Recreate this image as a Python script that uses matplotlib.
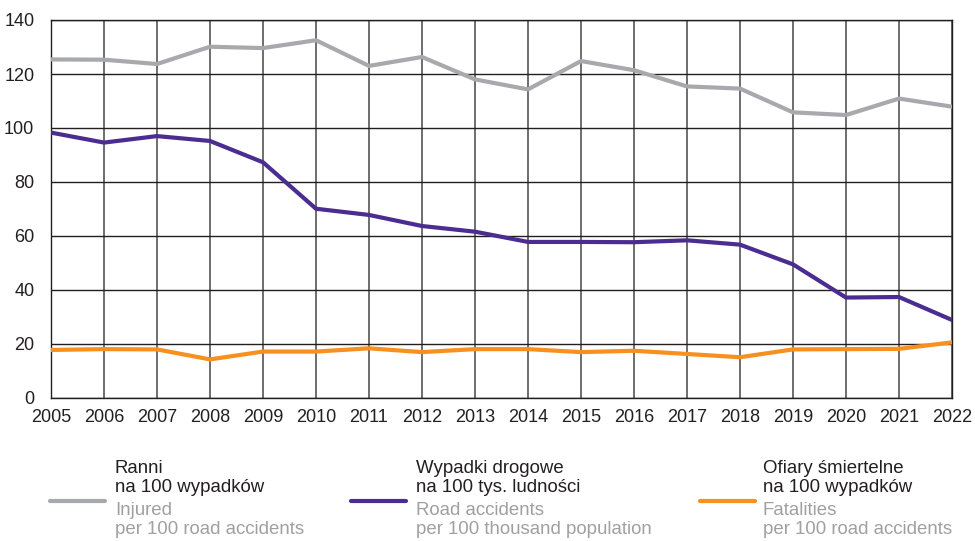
import matplotlib
matplotlib.use("Agg")
import matplotlib.pyplot as plt
from matplotlib.lines import Line2D

plt.rcParams['font.family'] = ['Liberation Sans', 'DejaVu Sans']

years = list(range(2005, 2023))
injured = [125.4, 125.3, 123.7, 130.1, 129.6, 132.5, 123.0, 126.3, 118.0, 114.3,
           124.8, 121.4, 115.4, 114.6, 105.8, 104.8, 110.9, 107.9]
accidents = [98.3, 94.6, 97.0, 95.2, 87.3, 70.1, 67.8, 63.7, 61.6, 57.8,
             57.8, 57.7, 58.4, 56.8, 49.5, 37.2, 37.4, 28.9]
fatalities = [17.8, 18.1, 18.0, 14.3, 17.2, 17.2, 18.4, 17.0, 18.1, 18.1,
              17.0, 17.5, 16.3, 15.1, 18.0, 18.1, 18.2, 20.6]
yticks = [0, 20, 40, 60, 80, 100, 120, 140]

legend_pl = ["Ranni\nna 100 wypadków", "Wypadki drogowe\nna 100 tys. ludności", "Ofiary śmiertelne\nna 100 wypadków"]
legend_en = ["Injured\nper 100 road accidents", "Road accidents\nper 100 thousand population", "Fatalities\nper 100 road accidents"]
colors = ["#A7A9AC", "#4B2C91", "#F7901E"]

W, H = 975, 541
fig = plt.figure(figsize=(W / 100, H / 100), dpi=100)
ax = fig.add_axes([51 / W, 1 - 398 / H, (952 - 51) / W, (398 - 20) / H])

for series, c in zip([injured, accidents, fatalities], colors):
    ax.plot(years, series, color=c, lw=3.0, solid_joinstyle='miter', zorder=3)

ax.set_xlim(2005, 2022)
ax.set_ylim(0, 140)
ax.set_xticks(years)
ax.set_yticks(yticks)
ax.tick_params(axis='both', length=0, labelsize=13, colors='#231F20')
ax.tick_params(axis='x', pad=8)
ax.tick_params(axis='y', pad=12)
ax.grid(axis='y', color='#231F20', lw=1.0, zorder=1)
ax.grid(axis='x', color='#555555', lw=1.2, zorder=1)
for s in ax.spines.values():
    s.set_color('#231F20')
    s.set_linewidth(1.0)

# legend
handle_x = [50, 351, 700]
text_x = [115, 416, 763]
for i in range(3):
    fig.add_artist(Line2D([handle_x[i] / W, (handle_x[i] + 55) / W], [1 - 501 / H] * 2,
                          color=colors[i], lw=3.0, solid_capstyle='round'))
    fig.text(text_x[i] / W, 1 - 460 / H, legend_pl[i], fontsize=13.4, color='#231F20',
             va='top', ha='left', linespacing=1.16)
    fig.text(text_x[i] / W, 1 - 502 / H, legend_en[i], fontsize=13.4, color='#A0A0A0',
             va='top', ha='left', linespacing=1.16)

fig.savefig("out.png", dpi=100)
